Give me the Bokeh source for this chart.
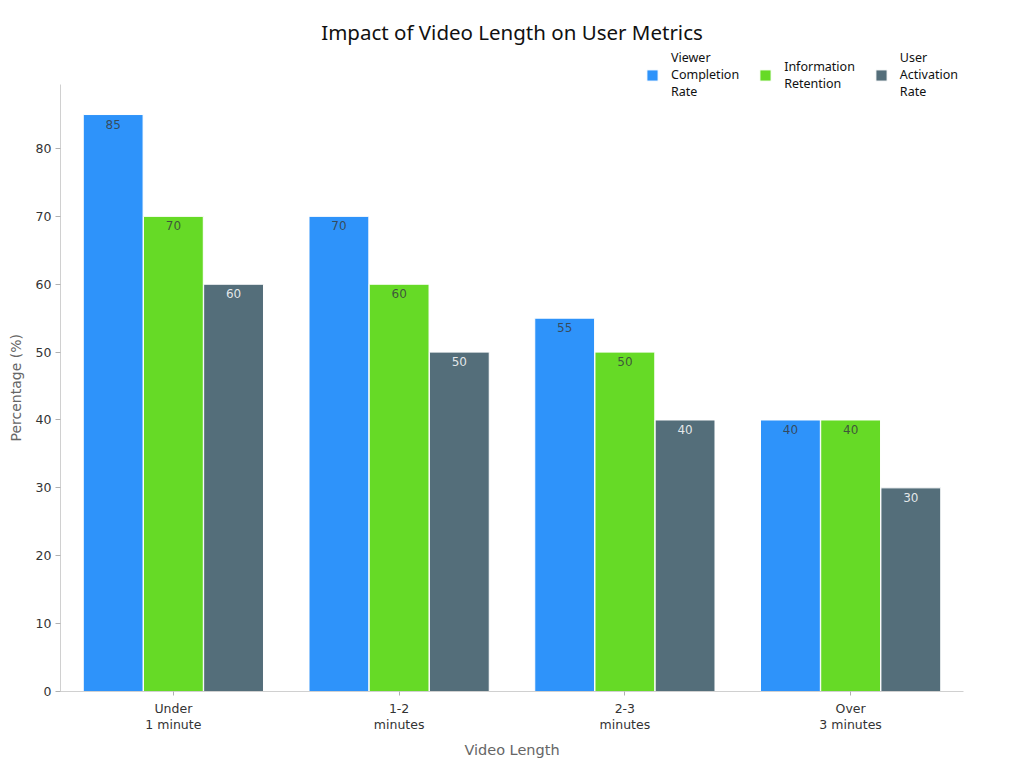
from bokeh.plotting import figure
from bokeh.models import ColumnDataSource, FactorRange, Range1d, Legend, LegendItem, Title
from bokeh.transform import dodge
from bokeh.core.properties import value
from bokeh.embed import file_html
from bokeh.resources import INLINE

categories = ["Under\n1 minute", "1-2\nminutes", "2-3\nminutes", "Over\n3 minutes"]
series_names = ["Viewer\nCompletion\nRate", "Information\nRetention", "User\nActivation\nRate"]
viewer_completion = [85, 70, 55, 40]
information_retention = [70, 60, 50, 40]
user_activation = [60, 50, 40, 30]
y_ticks = [0, 10, 20, 30, 40, 50, 60, 70, 80]

colors = ["#2E93FA", "#66DA26", "#546E7A"]
label_colors = ["#373d3f", "#373d3f", "#ffffff"]

source = ColumnDataSource(data=dict(
    cat=categories,
    s0=viewer_completion, s1=information_retention, s2=user_activation,
    t0=[str(v) for v in viewer_completion],
    t1=[str(v) for v in information_retention],
    t2=[str(v) for v in user_activation],
))

p = figure(
    width=1024, height=768,
    x_range=FactorRange(*categories, range_padding=0),
    y_range=Range1d(0, 94.73),
    output_backend="svg", toolbar_location=None,
    min_border_left=60, min_border_right=61, min_border_top=48, min_border_bottom=77,
    title="Impact of Video Length on User Metrics",
)
p.title.align = "center"
p.title.text_font = "Noto Sans"
p.title.text_font_size = "20.5px"
p.title.text_font_style = "normal"
p.title.text_color = "#111111"
p.title.standoff = 6

width = 0.265
offsets = [-0.2667, 0.0, 0.2667]
renderers = []
for i in range(3):
    r = p.vbar(x=dodge("cat", offsets[i], range=p.x_range), top="s%d" % i, width=width,
               source=source, fill_color=colors[i], line_color="white", line_width=1)
    renderers.append(r)
    p.text(x=dodge("cat", offsets[i], range=p.x_range), y="s%d" % i, text="t%d" % i,
           source=source, y_offset=5, text_align="center", text_baseline="top",
           text_font=value("DejaVu Sans"), text_font_size="12px",
           text_color=label_colors[i], text_alpha=0.85)

legend = Legend(items=[LegendItem(label=series_names[i], renderers=[renderers[i]]) for i in range(3)],
                orientation="horizontal", location=(585, 591),
                glyph_width=14, glyph_height=14, label_standoff=12, spacing=19,
                label_text_font="Noto Sans", label_text_font_size="12.5px",
                label_text_line_height=1.35,
                label_text_color="#111111", border_line_color=None,
                background_fill_alpha=0, padding=0, margin=0)
p.add_layout(legend, "center")

p.xgrid.visible = False
p.ygrid.visible = False
p.outline_line_color = None

p.yaxis.ticker = y_ticks
p.yaxis.bounds = (0, 89.43)
p.xaxis.axis_label = "Video Length"
for ax in (p.xaxis, p.yaxis):
    ax.axis_line_color = "#d0d0d0"
    ax.major_tick_line_color = "#b0b0b0"
    ax.minor_tick_line_color = None
    ax.major_tick_in = 0
    ax.major_tick_out = 5
    ax.major_label_text_font = "DejaVu Sans"
    ax.major_label_text_font_size = "12.5px"
    ax.major_label_text_color = "#333333"
    ax.axis_label_text_font = "DejaVu Sans"
    ax.axis_label_text_font_size = "14.5px"
    ax.axis_label_text_font_style = "normal"
    ax.axis_label_text_color = "#666666"
p.xaxis.major_tick_out = 4
p.xaxis.major_label_standoff = 5
p.xaxis.major_label_text_line_height = 1.1
p.xaxis.axis_label_standoff = 7
p.yaxis.major_label_standoff = 4

ylabel = Title(text="Percentage (%)", align="left", offset=250, vertical_align="top",
               standoff=14, text_font="DejaVu Sans", text_font_size="14px",
               text_font_style="normal", text_color="#666666")
p.add_layout(ylabel, "left")

open("out.html", "w").write(file_html(p, INLINE))
